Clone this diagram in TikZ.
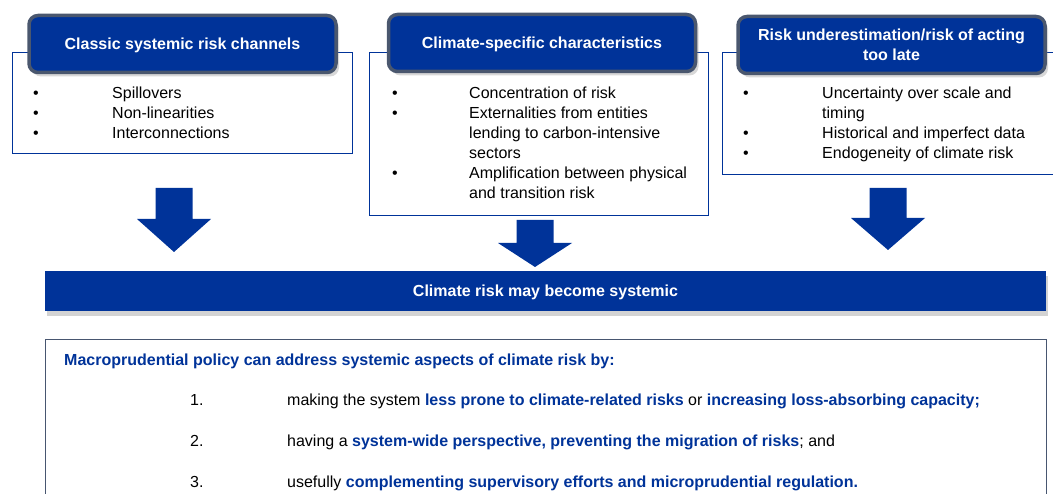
\documentclass[tikz,border=0pt]{standalone}
\usepackage{fontspec}
\setmainfont{Liberation Sans}
\usepackage{xcolor}
\usepackage{array}
\usetikzlibrary{shadows,positioning,calc}
\definecolor{ecbblue}{RGB}{0,51,153}
\definecolor{hdrgrey}{RGB}{74,87,110}
\definecolor{framegrey}{RGB}{72,86,112}
\tikzset{
  hdr/.style={rectangle, draw=hdrgrey, line width=3.5pt, rounded corners=9pt,
              fill=ecbblue, text=white, font=\fontsize{16}{20}\selectfont\bfseries,
              align=center, minimum width=307pt, minimum height=57pt, text depth=0pt,
              drop shadow={opacity=0.3, shadow xshift=3pt, shadow yshift=-4pt}},
  listframe/.style={rectangle, draw=ecbblue, line width=1.4pt, anchor=north west,
              inner sep=0pt, fill=white},
  listtext/.style={anchor=base west, inner sep=0pt, align=left},
  banner/.style={rectangle, fill=ecbblue, text=white,
              font=\fontsize{16}{20}\selectfont\bfseries, text depth=0pt,
              minimum width=1001pt, minimum height=40pt,
              drop shadow={opacity=0.35, shadow xshift=2pt, shadow yshift=-5pt}},
  pics/downblock/.style 2 args={code={
    \fill[ecbblue] (-18.5,0) -- (18.5,0) -- (18.5,#1) -- (37,#1) -- (0,#1+#2)
      -- (-37,#1) -- (-18.5,#1) -- cycle;}}
}
\newcommand\hl[1]{\textcolor{ecbblue}{\bfseries #1}}

\begin{document}
\begin{tikzpicture}[x=1pt, y=-1pt, font=\fontsize{16}{20}\selectfont]
  \useasboundingbox (0,0) rectangle (1053,494);
  \clip (0,0) rectangle (1053,494);

  \node[listframe, minimum width=340pt, minimum height=101pt] (f1) at (12,52) {};
  \node[listframe, minimum width=339pt, minimum height=163pt] (f2) at (369,52) {};
  \node[listframe, minimum width=345pt, minimum height=122pt] (f3) at (722,52) {};

  \node[hdr] (h1) at (182.5,44) {Classic systemic risk channels};
  \node[hdr] (h2) at (542,43) {Climate-specific characteristics};
  \node[hdr] (h3) at (891.5,45) {Risk underestimation/risk of acting\\too late};

  \node[listtext] (t1) at (33,99) {\begin{tabular}[t]{@{}p{79pt}@{}l@{}}
    \textbullet & Spillovers\\
    \textbullet & Non-linearities\\
    \textbullet & Interconnections
  \end{tabular}};
  \node[listtext] (t2) at (392,99) {\begin{tabular}[t]{@{}p{77pt}@{}l@{}}
    \textbullet & Concentration of risk\\
    \textbullet & Externalities from entities\\
                & lending to carbon-intensive\\
                & sectors\\
    \textbullet & Amplification between physical\\
                & and transition risk
  \end{tabular}};
  \node[listtext] (t3) at (743,99) {\begin{tabular}[t]{@{}p{79pt}@{}l@{}}
    \textbullet & Uncertainty over scale and\\
                & timing\\
    \textbullet & Historical and imperfect data\\
    \textbullet & Endogeneity of climate risk
  \end{tabular}};

  \pic at (174,188) {downblock={31}{33}};
  \pic at (535,220) {downblock={23}{24}};
  \pic at (888,188) {downblock={30}{32}};

  \node[banner] (sys) at (545.5,291) {Climate risk may become systemic};

  \node[listframe, draw=framegrey, minimum width=1001pt, minimum height=180pt] (pol) at (45,339) {};
  \node[listtext, font=\fontsize{16}{20}\selectfont\bfseries, text=ecbblue] (polt) at (64,366)
    {Macroprudential policy can address systemic aspects of climate risk by:};
  \node[listtext] (items) at (190,406) {\begin{tabular}[t]{@{}p{97pt}@{}l@{}}
    1. & making the system \hl{less prone to climate-related risks} or \hl{increasing loss-absorbing capacity;}\\[21pt]
    2. & having a \hl{system-wide perspective, preventing the migration of risks}; and\\[21pt]
    3. & usefully \hl{complementing supervisory efforts and microprudential regulation.}
  \end{tabular}};
\end{tikzpicture}
\end{document}
